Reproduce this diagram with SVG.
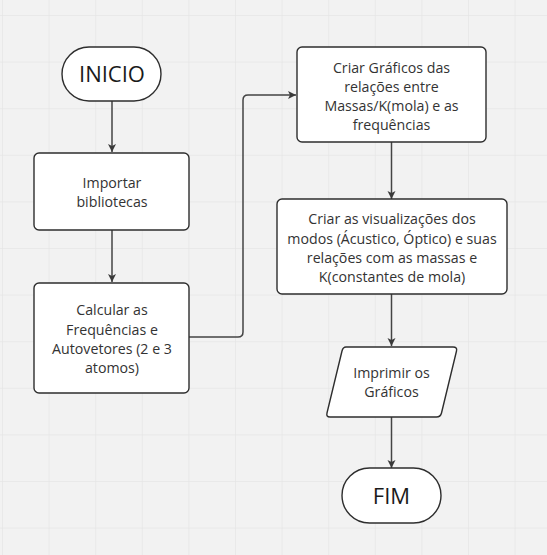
<svg xmlns="http://www.w3.org/2000/svg" width="547" height="555" viewBox="0 0 547 555">
<defs>
<pattern id="grid" x="2" y="15" width="46.6" height="46.6" patternUnits="userSpaceOnUse">
<path d="M0 0 H46.6 M0 0 V46.6" fill="none" stroke="#e6e6e6" stroke-width="1.5"/>
</pattern>
<marker id="arr" markerWidth="10" markerHeight="10" refX="9" refY="5" orient="auto" markerUnits="userSpaceOnUse">
<path d="M1 1 L9 5 L1 9 L3 5 Z" fill="#3a3a3a"/>
</marker>
<style>
.box{fill:#ffffff;stroke:#2e2e2e;stroke-width:1.4}
.t{font-family:"Open Sans","Noto Sans","Liberation Sans",sans-serif;font-size:14.2px;fill:#333333;text-anchor:middle}
.big{font-family:"Open Sans","Noto Sans","Liberation Sans",sans-serif;font-size:22px;fill:#1a1a1a;text-anchor:middle}
.c{fill:none;stroke:#444444;stroke-width:1.5;marker-end:url(#arr)}
</style>
</defs>
<rect width="547" height="555" fill="#f2f2f2"/>
<rect width="547" height="555" fill="url(#grid)"/>
<g id="connectors">
<path class="c" d="M112 101 V152"/>
<path class="c" d="M112 230 V282"/>
<path class="c" d="M189 337 H238 Q243 337 243 332 V100 Q243 95 248 95 H296"/>
<path class="c" d="M391.5 142 V199"/>
<path class="c" d="M391.5 294 V346"/>
<path class="c" d="M391.5 417 V468"/>
</g>
<g id="inicio">
<rect class="box" x="62" y="47" width="99" height="54" rx="27"/>
<text class="big" x="112" y="82">INICIO</text>
</g>
<g id="importar">
<rect class="box" x="34" y="153" width="155" height="77" rx="5"/>
<text class="t" x="112" y="188">Importar</text>
<text class="t" x="112" y="207">bibliotecas</text>
</g>
<g id="calcular">
<rect class="box" x="34" y="283" width="155" height="110" rx="5"/>
<text class="t" x="112" y="315">Calcular as</text>
<text class="t" x="112" y="335">Frequências e</text>
<text class="t" x="112" y="354">Autovetores (2 e 3</text>
<text class="t" x="112" y="373">atomos)</text>
</g>
<g id="graficos">
<rect class="box" x="297" y="47" width="189" height="95" rx="5"/>
<text class="t" x="391.5" y="72.5">Criar Gráficos das</text>
<text class="t" x="391.5" y="91.5">relações entre</text>
<text class="t" x="391.5" y="110.5">Massas/K(mola) e as</text>
<text class="t" x="391.5" y="129.5">frequências</text>
</g>
<g id="visualizacoes">
<rect class="box" x="277" y="199" width="230" height="95" rx="5"/>
<text class="t" x="392" y="224">Criar as visualizações dos</text>
<text class="t" x="392" y="244">modos (Ácustico, Óptico) e suas</text>
<text class="t" x="392" y="263">relações com as massas e</text>
<text class="t" x="392" y="282">K(constantes de mola)</text>
</g>
<g id="imprimir">
<path class="box" d="M346 347 H453 Q457.5 347 456.5 351 L441.5 413 Q440.5 417 436.5 417 H330 Q326 417 327 413 L342 351 Q343 347 346 347 Z"/>
<text class="t" x="391.5" y="378">Imprimir os</text>
<text class="t" x="391.5" y="397">Gráficos</text>
</g>
<g id="fim">
<rect class="box" x="342" y="468" width="99" height="55" rx="27.5"/>
<text class="big" x="391.5" y="504">FIM</text>
</g>
</svg>
